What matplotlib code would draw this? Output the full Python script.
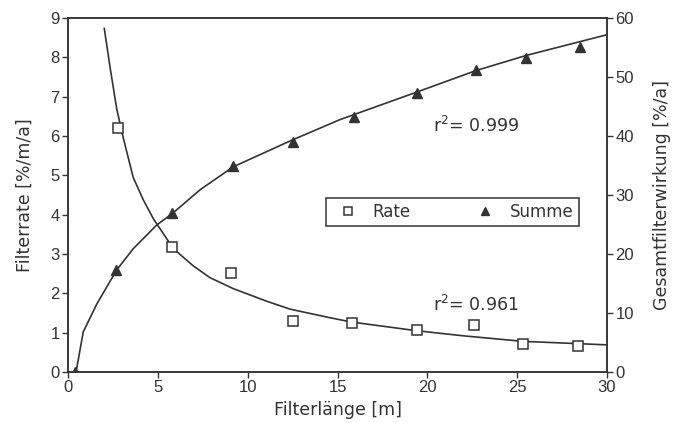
import numpy as np
import matplotlib.pyplot as plt

plt.rcParams['font.family'] = ['Liberation Sans', 'DejaVu Sans']

# messpunkte
laenge = [2.8, 5.8, 9.1, 12.5, 15.8, 19.4, 22.6, 25.3, 28.4]
rate = [6.2, 3.18, 2.52, 1.3, 1.25, 1.07, 1.2, 0.71, 0.66]

laenge_s = [0.4, 2.7, 5.8, 9.2, 12.5, 15.9, 19.4, 22.7, 25.5, 28.5]
summe = [0.0, 17.3, 26.9, 34.9, 39.0, 43.2, 47.3, 51.2, 53.2, 55.1]

# angepasste kurven
fit_rate_x = [2.02, 2.34, 2.71, 3.08, 3.63, 4.19, 4.75, 5.86, 6.97, 7.9, 9.2,
              11.06, 12.35, 14.58, 15.79, 19.4, 22.0, 25.3, 30.0]
fit_rate_y = [8.74, 7.76, 6.7, 5.95, 4.95, 4.38, 3.9, 3.14, 2.7, 2.4, 2.12,
              1.8, 1.6, 1.38, 1.27, 1.05, 0.92, 0.78, 0.69]

fit_sum_x = [0.45, 0.85, 1.6, 2.71, 3.63, 4.93, 5.86, 7.35, 9.2, 12.45, 15.14,
             19.44, 22.69, 25.52, 30.0]
fit_sum_y = [0.0, 6.8, 11.5, 17.3, 20.9, 24.9, 27.0, 30.9, 34.8, 39.3, 42.8,
             47.5, 51.1, 53.7, 57.2]

col = '#333333'

fig = plt.figure(figsize=(6.73, 4.23), dpi=100)
ax1 = fig.add_axes([0.101, 0.1206, 0.801, 0.8364])
ax2 = ax1.twinx()

ax1.plot(fit_rate_x, fit_rate_y, color=col, lw=1.2)
ax1.plot(laenge, rate, 's', mfc='white', mec=col, ms=7, mew=1.1, label='Rate')
ax2.plot(fit_sum_x, fit_sum_y, color=col, lw=1.2)
ax2.plot(laenge_s, summe, '^', color=col, ms=7, label='Summe')

ax1.set_xlim(0, 30)
ax1.set_ylim(0, 9)
ax2.set_ylim(0, 60)
ax1.set_xticks(np.arange(0, 31, 5))
ax1.set_yticks(np.arange(0, 10, 1))
ax2.set_yticks(np.arange(0, 61, 10))

for a in (ax1, ax2):
    a.tick_params(colors=col, labelsize=12, length=4, width=1, pad=2)
    for s in a.spines.values():
        s.set_color(col)
        s.set_linewidth(1.1)

lab = dict(color=col, fontsize=12.5, family='DejaVu Sans')
ax1.set_xlabel('Filterlänge [m]', labelpad=4, **lab)
ax1.set_ylabel('Filterrate [%/m/a]', labelpad=12, **lab)
ax2.set_ylabel('Gesamtfilterwirkung [%/a]', labelpad=14, **lab)

ax1.text(20.3, 6.1, 'r$^2$= 0.999', **lab)
ax1.text(20.3, 1.55, 'r$^2$= 0.961', **lab)

h1, l1 = ax1.get_legend_handles_labels()
h2, l2 = ax2.get_legend_handles_labels()
leg = ax2.legend(h1 + h2, l1 + l2, ncol=2, loc='center',
                 bbox_to_anchor=(0.479, 0.401, 0.469, 0.105), mode='expand',
                 fancybox=False, edgecolor=col, handlelength=2.0,
                 handletextpad=0.5, borderpad=0.3, borderaxespad=0,
                 markerscale=0.75, framealpha=1,
                 prop={'family': 'DejaVu Sans', 'size': 12})
for t in leg.get_texts():
    t.set_color(col)
leg.get_frame().set_linewidth(1.1)

fig.savefig('out.png', dpi=100)
